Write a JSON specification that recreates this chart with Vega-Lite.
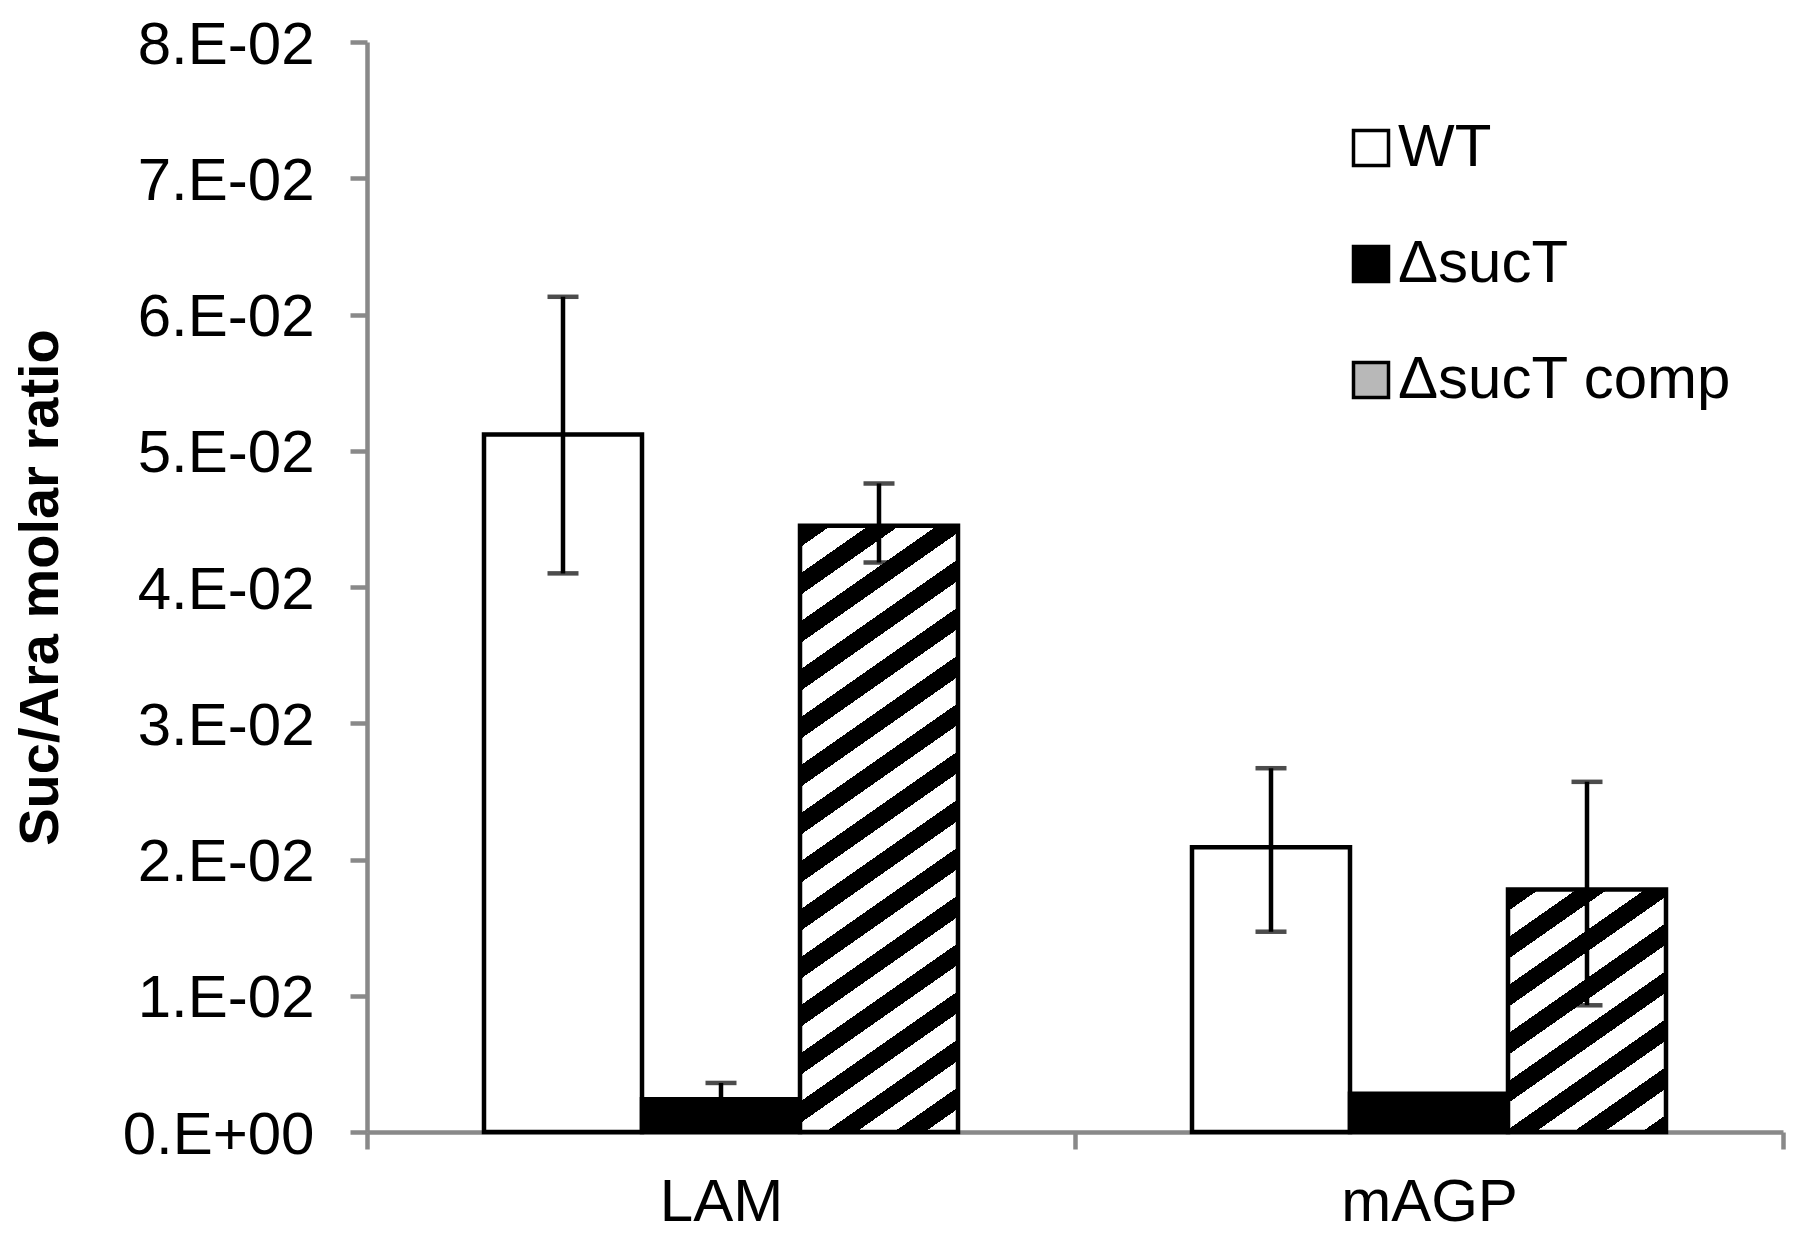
{
  "$schema": "https://vega.github.io/schema/vega-lite/v6.json",
  "autosize": "none",
  "width": 1416,
  "height": 1090,
  "padding": {"left": 367, "top": 42, "right": 17, "bottom": 103},
  "background": "white",
  "config": {"font": "Liberation Sans", "view": {"stroke": null}},
  "data": {"values": [
    {"cat": "LAM", "group": "WT", "value": 0.0512, "lo": 0.0410, "hi": 0.0613},
    {"cat": "LAM", "group": "ΔsucT", "value": 0.0024, "lo": 0.0012, "hi": 0.0036},
    {"cat": "LAM", "group": "ΔsucT comp", "value": 0.0445, "lo": 0.0418, "hi": 0.0476},
    {"cat": "mAGP", "group": "WT", "value": 0.0209, "lo": 0.0147, "hi": 0.0267},
    {"cat": "mAGP", "group": "ΔsucT", "value": 0.0028, "lo": null, "hi": null},
    {"cat": "mAGP", "group": "ΔsucT comp", "value": 0.0178, "lo": 0.0093, "hi": 0.0257}
  ]},
  "encoding": {
    "x": {
      "field": "cat", "type": "nominal", "sort": ["LAM", "mAGP"],
      "scale": {"paddingInner": 0, "paddingOuter": 0},
      "axis": {
        "title": null, "labelAngle": 0, "labelFontSize": 60, "labelColor": "black",
        "labelPadding": 24, "tickBand": "extent", "tickSize": 17, "tickWidth": 4.5,
        "tickColor": "#898989", "domainColor": "#898989", "domainWidth": 4.5, "grid": false
      }
    },
    "xOffset": {
      "field": "group", "type": "nominal",
      "scale": {"domain": ["WT", "ΔsucT", "ΔsucT comp"], "paddingInner": 0, "paddingOuter": 0.7405}
    }
  },
  "layer": [
    {
      "transform": [{"filter": "datum.group != 'ΔsucT comp'"}],
      "mark": {"type": "bar", "stroke": "black", "strokeWidth": 4.5},
      "encoding": {
        "y": {
          "field": "value", "type": "quantitative",
          "scale": {"domain": [0, 0.08], "nice": false, "zero": true},
          "axis": {
            "values": [0, 0.01, 0.02, 0.03, 0.04, 0.05, 0.06, 0.07, 0.08],
            "labelExpr": "datum.value == 0 ? '0.E+00' : format(datum.value * 100, '.0f') + '.E-02'",
            "labelFontSize": 60, "labelColor": "black", "labelPadding": 36, "labelOffset": 3,
            "labelLimit": 500,
            "tickSize": 17, "tickWidth": 4.5, "tickColor": "#898989",
            "domainColor": "#898989", "domainWidth": 4.5, "grid": false,
            "title": "Suc/Ara molar ratio", "titleFontSize": 56, "titleFontWeight": "bold",
            "titleColor": "black", "titleAngle": -90, "titleX": -310, "titleY": 545,
            "titleAlign": "center", "titleBaseline": "alphabetic"
          }
        },
        "fill": {
          "field": "group", "type": "nominal",
          "scale": {
            "domain": ["WT", "ΔsucT", "ΔsucT comp"],
            "range": ["#ffffff", "#000000", "#b8b8b8"]
          },
          "legend": {
            "title": null, "orient": "none", "legendX": 974, "legendY": 76,
            "symbolType": "square", "symbolSize": 1225, "symbolStrokeColor": "black",
            "symbolStrokeWidth": 3.5, "symbolOpacity": 1, "labelFontSize": 60, "labelColor": "black",
            "labelOffset": -3, "rowPadding": 56, "padding": 0, "labelLimit": 600
          }
        }
      }
    },
    {
      "transform": [{"filter": "datum.group == 'ΔsucT comp' && datum.cat == 'LAM'"}],
      "mark": {"type": "bar", "stroke": "black", "strokeWidth": 4.5,
        "fill": {"gradient": "linear", "x1": 0, "y1": 0, "x2": 0.20875, "y2": 1.14434,
          "stops": [
            {"offset": 0, "color": "black"}, {"offset": 0.03013, "color": "black"}, {"offset": 0.03013, "color": "white"}, {"offset": 0.066956, "color": "white"},
            {"offset": 0.066956, "color": "black"}, {"offset": 0.097086, "color": "black"}, {"offset": 0.097086, "color": "white"}, {"offset": 0.133912, "color": "white"},
            {"offset": 0.133912, "color": "black"}, {"offset": 0.164042, "color": "black"}, {"offset": 0.164042, "color": "white"}, {"offset": 0.200868, "color": "white"},
            {"offset": 0.200868, "color": "black"}, {"offset": 0.230998, "color": "black"}, {"offset": 0.230998, "color": "white"}, {"offset": 0.267824, "color": "white"},
            {"offset": 0.267824, "color": "black"}, {"offset": 0.297954, "color": "black"}, {"offset": 0.297954, "color": "white"}, {"offset": 0.33478, "color": "white"},
            {"offset": 0.33478, "color": "black"}, {"offset": 0.36491, "color": "black"}, {"offset": 0.36491, "color": "white"}, {"offset": 0.401736, "color": "white"},
            {"offset": 0.401736, "color": "black"}, {"offset": 0.431866, "color": "black"}, {"offset": 0.431866, "color": "white"}, {"offset": 0.468692, "color": "white"},
            {"offset": 0.468692, "color": "black"}, {"offset": 0.498822, "color": "black"}, {"offset": 0.498822, "color": "white"}, {"offset": 0.535648, "color": "white"},
            {"offset": 0.535648, "color": "black"}, {"offset": 0.565778, "color": "black"}, {"offset": 0.565778, "color": "white"}, {"offset": 0.602604, "color": "white"},
            {"offset": 0.602604, "color": "black"}, {"offset": 0.632734, "color": "black"}, {"offset": 0.632734, "color": "white"}, {"offset": 0.66956, "color": "white"},
            {"offset": 0.66956, "color": "black"}, {"offset": 0.69969, "color": "black"}, {"offset": 0.69969, "color": "white"}, {"offset": 0.736516, "color": "white"},
            {"offset": 0.736516, "color": "black"}, {"offset": 0.766646, "color": "black"}, {"offset": 0.766646, "color": "white"}, {"offset": 0.803472, "color": "white"},
            {"offset": 0.803472, "color": "black"}, {"offset": 0.833602, "color": "black"}, {"offset": 0.833602, "color": "white"}, {"offset": 0.870428, "color": "white"},
            {"offset": 0.870428, "color": "black"}, {"offset": 0.900558, "color": "black"}, {"offset": 0.900558, "color": "white"}, {"offset": 0.937384, "color": "white"},
            {"offset": 0.937384, "color": "black"}, {"offset": 0.967514, "color": "black"}, {"offset": 0.967514, "color": "white"}, {"offset": 1, "color": "white"}
          ]}},
      "encoding": {"y": {"field": "value", "type": "quantitative"}}
    },
    {
      "transform": [{"filter": "datum.group == 'ΔsucT comp' && datum.cat == 'mAGP'"}],
      "mark": {"type": "bar", "stroke": "black", "strokeWidth": 4.5,
        "fill": {"gradient": "linear", "x1": 0, "y1": 0, "x2": 0.54975, "y2": 1.20537,
          "stops": [
            {"offset": 0, "color": "black"}, {"offset": 0.061172, "color": "black"}, {"offset": 0.061172, "color": "white"}, {"offset": 0.13594, "color": "white"},
            {"offset": 0.13594, "color": "black"}, {"offset": 0.197112, "color": "black"}, {"offset": 0.197112, "color": "white"}, {"offset": 0.27188, "color": "white"},
            {"offset": 0.27188, "color": "black"}, {"offset": 0.333052, "color": "black"}, {"offset": 0.333052, "color": "white"}, {"offset": 0.40782, "color": "white"},
            {"offset": 0.40782, "color": "black"}, {"offset": 0.468992, "color": "black"}, {"offset": 0.468992, "color": "white"}, {"offset": 0.54376, "color": "white"},
            {"offset": 0.54376, "color": "black"}, {"offset": 0.604932, "color": "black"}, {"offset": 0.604932, "color": "white"}, {"offset": 0.6797, "color": "white"},
            {"offset": 0.6797, "color": "black"}, {"offset": 0.740872, "color": "black"}, {"offset": 0.740872, "color": "white"}, {"offset": 0.81564, "color": "white"},
            {"offset": 0.81564, "color": "black"}, {"offset": 0.876812, "color": "black"}, {"offset": 0.876812, "color": "white"}, {"offset": 0.95158, "color": "white"},
            {"offset": 0.95158, "color": "black"}, {"offset": 1, "color": "black"}
          ]}},
      "encoding": {"y": {"field": "value", "type": "quantitative"}}
    },
    {
      "mark": {"type": "rule", "color": "black", "strokeWidth": 4.5},
      "encoding": {
        "y": {"field": "lo", "type": "quantitative"},
        "y2": {"field": "hi"}
      }
    },
    {
      "mark": {"type": "tick", "color": "black", "size": 31, "thickness": 4.5},
      "encoding": {"y": {"field": "hi", "type": "quantitative"}}
    },
    {
      "mark": {"type": "tick", "color": "black", "size": 31, "thickness": 4.5},
      "encoding": {"y": {"field": "lo", "type": "quantitative"}}
    }
  ]
}
